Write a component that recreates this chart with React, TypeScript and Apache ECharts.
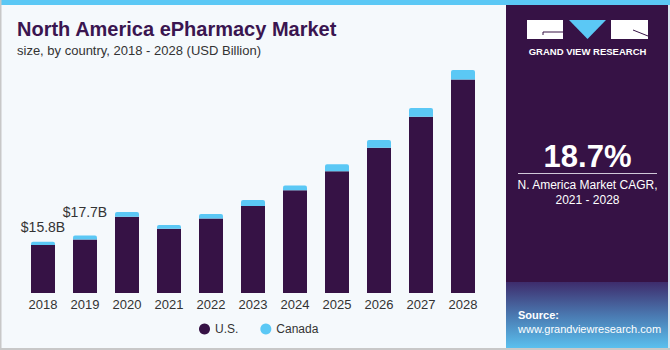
import React, { useEffect, useRef } from "react";
import * as echarts from "echarts";

const years = ["2018", "2019", "2020", "2021", "2022", "2023", "2024", "2025", "2026", "2027", "2028"];
const usValues = [14.8, 16.5, 23.5, 19.8, 22.9, 26.8, 31.6, 37.5, 44.7, 54.2, 65.7];
const canadaValues = [1.0, 1.2, 1.4, 1.1, 1.4, 1.8, 1.5, 2.1, 2.4, 2.7, 2.9];
const labelledYears = ["2018", "2019"];
const labelDistances = [8, 16];
const cagrText = "18.7%";
const cagrCaption = ["N. America Market CAGR,", "2021 - 2028"];

const PURPLE = "#361245";
const BLUE = "#5BC8F5";
const FONT = "Arial, 'Liberation Sans', sans-serif";

export default function App() {
  const ref = useRef<HTMLDivElement>(null);

  useEffect(() => {
    if (!ref.current) return;
    const chart = echarts.init(ref.current, null, { renderer: "svg" });

    const canadaData = canadaValues.map((v, i) => {
      const idx = labelledYears.indexOf(years[i]);
      if (idx < 0) return v;
      const total = usValues[i] + v;
      return {
        value: v,
        label: {
          show: true,
          position: "top",
          distance: labelDistances[idx],
          formatter: "$" + total.toFixed(1) + "B",
          fontSize: 14,
          color: "#333333",
          fontFamily: FONT,
        },
      };
    });

    const option: any = {
      animation: false,
      backgroundColor: "#F5F9FC",
      textStyle: { fontFamily: FONT },
      title: {
        text: "North America ePharmacy Market",
        subtext: "size, by country, 2018 - 2028 (USD Billion)",
        left: 12,
        top: 14,
        itemGap: 5,
        textStyle: { fontSize: 20, fontWeight: "bold", color: "#3A1550", fontFamily: FONT },
        subtextStyle: { fontSize: 13, color: "#333333", fontFamily: FONT },
      },
      legend: {
        left: 194,
        top: 318,
        itemWidth: 11,
        itemHeight: 11,
        itemGap: 22,
        icon: "circle",
        textStyle: { fontSize: 12, color: "#333333", fontFamily: FONT },
        data: ["U.S.", "Canada"],
      },
      grid: { left: 22, right: 186, top: 59, bottom: 57 },
      xAxis: {
        type: "category",
        data: years,
        axisLine: { show: false },
        axisTick: { show: false },
        axisLabel: { fontSize: 13, color: "#333333", margin: 5, fontFamily: FONT },
      },
      yAxis: {
        type: "value",
        min: 0,
        max: 72,
        show: false,
        splitLine: { show: false },
      },
      series: [
        {
          name: "U.S.",
          type: "bar",
          stack: "total",
          barWidth: 24,
          data: usValues,
          itemStyle: { color: PURPLE },
        },
        {
          name: "Canada",
          type: "bar",
          stack: "total",
          barWidth: 24,
          data: canadaData,
          itemStyle: { color: BLUE, borderRadius: [2, 2, 0, 0] },
        },
      ],
      graphic: [
        { type: "rect", shape: { x: 0, y: 0, width: 670, height: 5 }, style: { fill: BLUE }, z: 10 },
        { type: "rect", shape: { x: 0, y: 0, width: 1.5, height: 350 }, style: { fill: "#C8C8C8" }, z: 10 },
        { type: "rect", shape: { x: 0, y: 348, width: 670, height: 2 }, style: { fill: "#C8C8C8" }, z: 10 },
        { type: "rect", shape: { x: 506, y: 5, width: 164, height: 343 }, style: { fill: PURPLE }, z: 5 },
        {
          type: "rect",
          shape: { x: 506, y: 282, width: 164, height: 66 },
          style: {
            fill: new echarts.graphic.LinearGradient(0, 0, 0, 1, [
              { offset: 0, color: "#3E2C6C" },
              { offset: 0.5, color: "#4A78B0" },
              { offset: 1, color: "#5AC0EE" },
            ]),
          },
          z: 6,
        },
        { type: "rect", shape: { x: 668, y: 5, width: 2, height: 343 }, style: { fill: "#D8E4EE" }, z: 7 },
        // logo
        { type: "rect", shape: { x: 527, y: 20, width: 36, height: 19 }, style: { fill: "#FFFFFF" }, z: 8 },
        { type: "polygon", shape: { points: [[569, 20], [606, 20], [587.5, 39]] }, style: { fill: BLUE }, z: 8 },
        { type: "rect", shape: { x: 611, y: 20, width: 37, height: 19 }, style: { fill: "#FFFFFF" }, z: 8 },
        { type: "polyline", shape: { points: [[563, 32], [543, 32], [543, 35]] }, style: { stroke: PURPLE, lineWidth: 1, fill: null }, z: 9 },
        { type: "line", shape: { x1: 633, y1: 30, x2: 648, y2: 36 }, style: { stroke: PURPLE, lineWidth: 1 }, z: 9 },
        {
          type: "text",
          x: 587.5,
          y: 51,
          style: { text: "GRAND VIEW RESEARCH", fill: "#FFFFFF", font: "bold 9.5px " + FONT, align: "center", verticalAlign: "middle" },
          z: 9,
        },
        {
          type: "text",
          x: 587.5,
          y: 156,
          style: { text: cagrText, fill: "#FFFFFF", font: "bold 31px " + FONT, align: "center", verticalAlign: "middle" },
          z: 9,
        },
        { type: "line", shape: { x1: 518, y1: 173.5, x2: 657, y2: 173.5 }, style: { stroke: "#D0C8D8", lineWidth: 1 }, z: 9 },
        {
          type: "text",
          x: 587.5,
          y: 185,
          style: { text: cagrCaption[0], fill: "#FFFFFF", font: "12px " + FONT, align: "center", verticalAlign: "middle" },
          z: 9,
        },
        {
          type: "text",
          x: 587.5,
          y: 200,
          style: { text: cagrCaption[1], fill: "#FFFFFF", font: "12px " + FONT, align: "center", verticalAlign: "middle" },
          z: 9,
        },
        {
          type: "text",
          x: 518,
          y: 315,
          style: { text: "Source:", fill: "#FFFFFF", font: "bold 11px " + FONT, align: "left", verticalAlign: "middle" },
          z: 9,
        },
        {
          type: "text",
          x: 518,
          y: 329,
          style: { text: "www.grandviewresearch.com", fill: "#FFFFFF", font: "11px " + FONT, align: "left", verticalAlign: "middle" },
          z: 9,
        },
      ],
    };

    chart.setOption(option);
    return () => chart.dispose();
  }, []);

  return <div ref={ref} style={{ position: "fixed", left: 0, top: 0, width: 670, height: 350 }} />;
}
